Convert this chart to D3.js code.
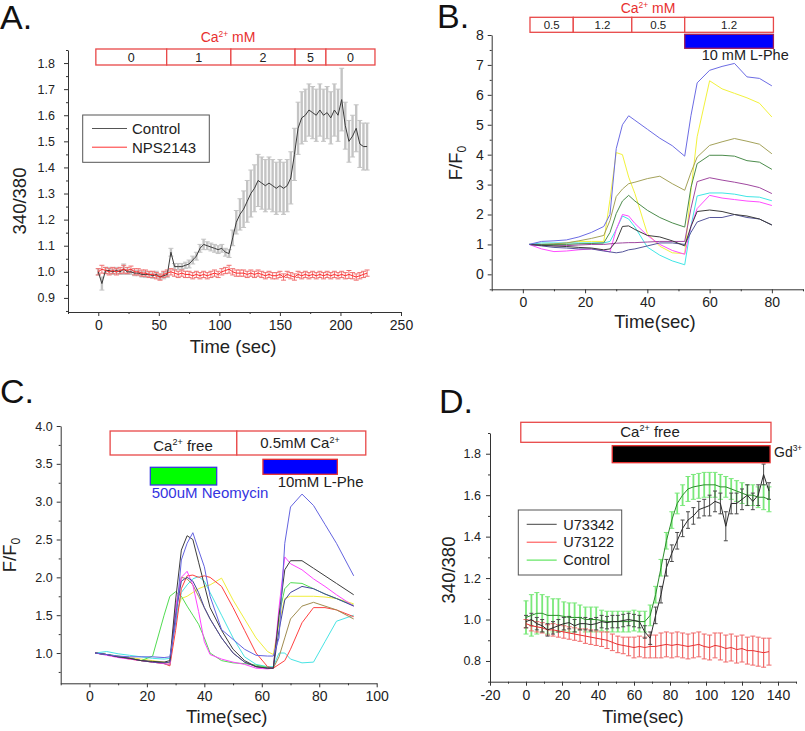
<!DOCTYPE html>
<html>
<head>
<meta charset="utf-8">
<script src="https://cdn.jsdelivr.net/npm/d3@7"></script>
<style>body{margin:0;background:#fff}</style>
</head>
<body>
<script>
// ---------- panel A : 340/380 vs time, Control / NPS2143 ----------
var tA = [0,3,6,9,12,15,18,21,24,27,30,33,36,39,42,45,48,51,54,57,60,63,66,69,72,75,78,81,84,87,90,93,96,99,102,105,108,111,114,117,120,123,126,129,132,135,138,141,144,147,150,153,156,159,162,165,168,171,174,177,180,183,186,189,192,195,198,201,204,207,210,213,216,219,222];
var controlA = [1.0,0.955,1.005,1.005,1.0,1.005,1.0,1.01,1.0,1.0,
  0.995,0.995,0.99,0.99,0.99,0.985,0.99,0.98,0.985,0.99,
  1.075,1.02,1.02,1.02,1.025,1.03,1.045,1.06,1.09,1.105,
  1.1,1.095,1.09,1.085,1.09,1.075,1.07,1.13,1.19,1.22,
  1.24,1.27,1.3,1.32,1.35,1.34,1.33,1.34,1.33,1.32,
  1.33,1.32,1.33,1.36,1.45,1.55,1.59,1.6,1.62,1.61,
  1.6,1.62,1.6,1.61,1.59,1.62,1.6,1.66,1.56,1.5,
  1.52,1.55,1.49,1.48,1.48];
var controlErrA = [0.012,0.025,0.012,0.012,0.01,0.012,0.01,0.02,0.01,0.01,
  0.01,0.01,0.01,0.012,0.01,0.01,0.012,0.01,0.012,0.012,
  0.015,0.012,0.012,0.012,0.012,0.015,0.015,0.015,0.015,0.02,
  0.015,0.015,0.015,0.015,0.015,0.015,0.015,0.03,0.045,0.06,
  0.07,0.08,0.09,0.09,0.1,0.1,0.1,0.1,0.1,0.1,
  0.1,0.1,0.1,0.1,0.1,0.1,0.1,0.1,0.1,0.1,
  0.1,0.1,0.1,0.1,0.1,0.1,0.1,0.12,0.09,0.08,
  0.08,0.09,0.09,0.09,0.09];
var npsA = [1.0,1.01,1.005,1.0,1.005,1.0,1.005,1.01,1.005,1.01,
  1.0,1.0,0.995,0.995,0.99,0.99,0.985,0.98,0.99,0.995,
  1.0,0.995,0.99,0.995,0.99,0.99,0.985,0.99,0.985,0.99,
  0.985,0.99,0.995,0.99,1.0,1.005,1.01,1.0,0.995,0.995,
  0.995,0.99,0.995,0.99,0.995,0.99,0.985,0.99,0.985,0.985,
  0.99,0.98,0.99,0.985,0.98,0.99,0.985,0.99,0.985,0.99,
  0.985,0.99,0.985,0.99,0.985,0.99,0.985,0.99,0.985,0.99,
  0.985,0.98,0.985,0.99,0.995];
var npsErrA = [0.012,0.015,0.012,0.012,0.012,0.012,0.012,0.015,0.012,0.012,
  0.012,0.012,0.012,0.012,0.012,0.012,0.012,0.012,0.012,0.012,
  0.012,0.012,0.012,0.012,0.012,0.012,0.012,0.012,0.012,0.012,
  0.012,0.012,0.012,0.012,0.012,0.012,0.015,0.012,0.012,0.012,
  0.012,0.012,0.012,0.012,0.012,0.012,0.012,0.012,0.012,0.012,
  0.012,0.012,0.012,0.012,0.012,0.012,0.012,0.012,0.012,0.012,
  0.012,0.012,0.012,0.012,0.012,0.012,0.012,0.012,0.012,0.015,
  0.012,0.012,0.012,0.012,0.012];
var caStepsA = [-2,56.5,109.5,162.5,188,228.5];
var caLabelsA = ["0","1","2","5","0"];

// ---------- panel B : F/F0 single cells ----------
var tB = [2,6,10,14,18,22,26,28,30,32,34,36,40,44,48,52,54,56,60,64,68,72,76,80];
var blueB    = [1.0,1.1,1.12,1.15,1.25,1.4,1.6,2.0,4.2,5.0,5.3,5.15,4.85,4.55,4.3,3.95,5.3,6.4,6.82,6.95,7.05,6.6,6.55,6.3];
var yellowB  = [1.0,1.0,1.0,1.05,1.1,1.1,1.1,2.5,4.07,4.0,3.25,2.7,1.36,0.94,0.72,0.69,2.8,4.6,6.47,6.2,6.05,5.9,5.72,5.26];
var oliveB   = [1.0,1.0,1.02,1.05,1.12,1.2,1.3,1.8,2.6,2.85,3.03,3.08,3.2,3.28,3.03,2.81,3.4,3.92,4.31,4.43,4.54,4.45,4.35,4.03];
var greenB   = [1.0,1.0,1.0,1.0,1.02,1.03,1.05,1.4,2.03,2.45,2.64,2.45,2.14,1.9,1.72,1.58,2.9,3.7,3.98,3.98,3.95,3.8,3.75,3.51];
var purpleB  = [1.0,0.97,0.95,0.96,0.98,1.0,1.0,1.02,1.04,1.05,1.06,1.06,1.08,1.1,1.1,1.1,2.2,3.1,3.23,3.15,3.08,3.0,2.9,2.7];
var cyanB    = [1.0,1.05,1.05,1.05,1.05,1.05,1.05,1.1,1.5,1.95,1.85,1.58,0.91,0.64,0.45,0.32,1.6,2.62,2.72,2.72,2.68,2.6,2.58,2.46];
var magentaB = [1.0,0.85,0.76,0.78,0.82,0.85,0.8,0.75,1.5,2.0,1.95,1.7,1.3,1.0,0.8,0.67,1.6,2.2,2.64,2.55,2.5,2.45,2.42,2.3];
var blackB   = [1.0,0.97,0.95,0.93,0.9,0.88,0.82,0.85,1.1,1.6,1.62,1.5,1.3,1.25,1.12,0.95,1.6,2.1,2.15,2.1,2.0,1.95,1.85,1.65];
var navyB    = [1.0,0.95,0.9,0.88,0.85,0.85,0.78,0.75,0.72,0.75,0.82,0.85,0.95,1.05,1.05,1.0,1.4,1.75,1.9,1.9,2.0,1.9,1.85,1.65];
var caStepsB = [2.3,16.2,35,52,80.5];
var caLabelsB = ["0.5","1.2","0.5","1.2"];
var pheB = [52,80.5];

// ---------- panel C : neomycin / L-Phe ----------
var tC = [2,6,10,14,18,22,26,28,30,32,34,36,38,40,42,46,50,54,58,62,64,66,68,70,74,78,82,86,92];
var blueC    = [1.0,0.98,0.96,0.95,0.95,0.95,0.94,0.95,1.4,2.23,2.45,2.59,2.36,2.14,1.75,1.31,1.18,1.05,0.97,0.96,0.96,1.2,2.45,2.93,3.1,2.95,2.7,2.45,2.02];
var blackC   = [1.0,0.98,0.95,0.93,0.9,0.89,0.88,0.9,1.7,2.36,2.55,2.5,2.2,1.9,1.6,1.3,1.05,0.9,0.82,0.8,0.8,1.5,2.1,2.22,2.22,2.12,2.02,1.92,1.77];
var magentaC = [1.0,0.97,0.94,0.92,0.9,0.88,0.86,0.85,1.6,2.0,2.08,1.9,1.55,1.15,0.98,0.92,0.88,0.85,0.8,0.79,0.8,1.6,2.27,2.18,2.1,1.98,1.88,1.77,1.62];
var navyC    = [1.0,0.98,0.95,0.93,0.9,0.88,0.87,0.88,1.5,1.95,2.0,1.95,1.8,1.6,1.45,1.2,1.0,0.88,0.82,0.8,0.8,1.3,1.7,1.8,1.88,1.85,1.78,1.72,1.62];
var greenC   = [1.0,0.98,0.96,0.93,0.9,0.96,1.5,1.75,1.81,1.75,1.62,1.5,1.38,1.2,1.0,0.9,0.87,0.86,0.84,0.81,0.8,1.5,1.85,1.93,1.92,1.85,1.78,1.72,1.63];
var cyanC    = [1.0,1.02,0.99,0.97,0.95,0.93,0.92,0.93,1.4,1.8,1.9,1.98,2.01,1.95,1.8,1.5,1.2,0.95,0.85,0.82,0.82,1.0,1.0,0.92,0.87,0.88,1.15,1.42,1.5];
var yellowC  = [1.0,0.98,0.96,0.94,0.92,0.9,0.88,0.86,1.5,1.72,1.75,1.8,1.85,1.88,1.9,1.99,1.7,1.45,1.2,1.02,0.98,1.4,1.72,1.75,1.75,1.75,1.74,1.72,1.65];
var redC     = [1.0,0.98,0.95,0.92,0.9,0.88,0.86,0.83,1.3,1.85,2.02,2.03,2.0,2.02,2.0,1.88,1.6,1.3,1.0,0.82,0.8,0.85,0.9,1.05,1.4,1.6,1.6,1.57,1.48];
var oliveC   = [1.0,0.98,0.95,0.93,0.9,0.88,0.86,0.84,1.6,2.0,1.98,1.9,1.75,1.6,1.45,1.2,1.0,0.88,0.82,0.8,0.8,0.95,1.2,1.45,1.62,1.67,1.62,1.57,1.45];
var caStepsC = [7.2,51.3,96.2];
var neoC = [21.2,44.3];
var pheC = [60.4,86.3];

// ---------- panel D : U73342 / U73122 / Control ----------
var tD = [0,3,6,9,12,15,18,21,24,27,30,33,36,39,42,45,48,51,54,57,60,63,66,69,72,75,78,81,84,87,90,93,96,99,102,105,108,111,114,117,120,123,126,129,132,135];
var ctrlD = [1.01,1.02,1.03,1.03,1.02,1.02,1.02,1.015,1.01,1.01,
  1.01,1.0,1.0,1.0,0.995,0.99,0.99,0.99,0.99,0.99,
  0.995,0.99,0.99,1.02,1.12,1.25,1.38,1.48,1.56,1.6,
  1.63,1.64,1.645,1.65,1.65,1.65,1.64,1.64,1.63,1.62,
  1.61,1.6,1.6,1.59,1.59,1.58];
var ctrlErrD = [0.08,0.1,0.1,0.09,0.09,0.08,0.08,0.07,0.07,0.07,
  0.06,0.06,0.06,0.06,0.05,0.05,0.05,0.05,0.05,0.05,
  0.05,0.05,0.05,0.05,0.04,0.04,0.04,0.04,0.05,0.05,
  0.06,0.06,0.06,0.06,0.06,0.06,0.06,0.05,0.05,0.05,
  0.05,0.05,0.05,0.05,0.06,0.06];
var u342D = [0.99,1.0,0.98,0.97,0.95,0.96,0.97,0.98,0.985,0.97,
  0.98,0.98,0.975,0.98,0.99,0.985,0.99,0.99,0.995,1.0,
  0.995,0.99,0.94,0.91,1.02,1.12,1.25,1.32,1.38,1.44,
  1.48,1.5,1.53,1.54,1.55,1.57,1.56,1.45,1.56,1.56,
  1.58,1.6,1.57,1.6,1.7,1.62];
var u342ErrD = [0.03,0.03,0.03,0.03,0.03,0.03,0.03,0.03,0.03,0.03,
  0.03,0.03,0.03,0.03,0.03,0.03,0.03,0.03,0.03,0.03,
  0.03,0.03,0.03,0.03,0.04,0.04,0.04,0.04,0.04,0.04,
  0.04,0.04,0.04,0.04,0.05,0.05,0.05,0.07,0.05,0.05,
  0.05,0.05,0.04,0.05,0.05,0.04];
var u122D = [0.98,0.97,0.965,0.96,0.95,0.95,0.945,0.94,0.935,0.93,
  0.925,0.92,0.915,0.91,0.905,0.9,0.89,0.88,0.875,0.87,
  0.865,0.87,0.865,0.87,0.87,0.875,0.88,0.875,0.88,0.875,
  0.87,0.875,0.88,0.87,0.865,0.875,0.87,0.86,0.865,0.855,
  0.86,0.85,0.85,0.845,0.84,0.845];
var u122ErrD = [0.02,0.025,0.025,0.025,0.025,0.03,0.03,0.03,0.03,0.03,
  0.03,0.035,0.035,0.035,0.035,0.04,0.04,0.04,0.04,0.045,
  0.05,0.05,0.05,0.055,0.055,0.06,0.06,0.06,0.06,0.06,
  0.06,0.06,0.06,0.06,0.06,0.06,0.065,0.065,0.065,0.065,
  0.065,0.065,0.07,0.07,0.07,0.065];
var caFreeD = [-2.9,136.1];
var gdD = [47.9,135.6];

// ---------- drawing ----------
var FONT = "'Liberation Sans', Arial, Helvetica, sans-serif";
var BOX_RED = "#e84848";
var svg = d3.select("body").append("svg")
  .attr("width", 805).attr("height", 731)
  .style("font-family", FONT);

function rich(g, x, y, parts, size, color, anchor) {
  var t = g.append("text").attr("x", x).attr("y", y)
    .attr("font-size", size).attr("fill", color || "#222")
    .attr("text-anchor", anchor || "start");
  parts.forEach(function (p, i) {
    var s = t.append("tspan").text(p[0]);
    var prev = parts[i - 1];
    if (p[1] == "sup") s.attr("font-size", size * 0.6).attr("dy", -size * 0.38);
    else if (p[1] == "sub") s.attr("font-size", size * 0.65).attr("dy", size * 0.22);
    else if (prev && prev[1] == "sup") s.attr("dy", size * 0.38);
    else if (prev && prev[1] == "sub") s.attr("dy", -size * 0.22);
  });
  return t;
}

function drawAxes(x, y, o) {
  var g = svg.append("g");
  var yb = y.range()[0], xl = x.range()[0];
  var style = function (s, size) {
    s.attr("font-size", null).attr("font-family", null);
    s.select(".domain").attr("stroke", "#333");
    s.selectAll(".tick line").attr("stroke", "#333");
    s.selectAll("text").attr("font-size", size).attr("fill", "#222");
  };
  g.append("g").attr("transform", "translate(0," + yb + ")")
    .call(d3.axisBottom(x).tickValues(o.xMinor).tickSize(2).tickFormat(""))
    .call(function (s) { s.select(".domain").remove(); s.selectAll("line").attr("stroke", "#333"); });
  g.append("g").attr("transform", "translate(" + xl + ",0)")
    .call(d3.axisLeft(y).tickValues(o.yMinor).tickSize(2).tickFormat(""))
    .call(function (s) { s.select(".domain").remove(); s.selectAll("line").attr("stroke", "#333"); });
  g.append("g").attr("transform", "translate(0," + yb + ")")
    .call(d3.axisBottom(x).tickValues(o.xMajor).tickSize(4).tickSizeOuter(0)
      .tickPadding(4).tickFormat(function (d) { return String(d); }))
    .call(style, 14);
  g.append("g").attr("transform", "translate(" + xl + ",0)")
    .call(d3.axisLeft(y).tickValues(o.yMajor).tickSize(4).tickSizeOuter(0)
      .tickPadding(o.yPad).tickFormat(o.yFmt))
    .call(style, o.ySize);
}

function errBars(x, y, t, m, e, color, cap, sw) {
  var g = svg.append("g").attr("stroke", color).attr("stroke-width", sw || 1);
  t.forEach(function (d, i) {
    var xx = x(d), y1 = y(m[i] + e[i]), y2 = y(m[i] - e[i]);
    g.append("line").attr("x1", xx).attr("x2", xx).attr("y1", y1).attr("y2", y2);
    g.append("line").attr("x1", xx - cap).attr("x2", xx + cap).attr("y1", y1).attr("y2", y1).attr("stroke-width", 1);
    g.append("line").attr("x1", xx - cap).attr("x2", xx + cap).attr("y1", y2).attr("y2", y2).attr("stroke-width", 1);
  });
}

function trace(x, y, t, v, color, w) {
  var line = d3.line().x(function (d, i) { return x(t[i]); }).y(function (d) { return y(d); });
  svg.append("path").attr("d", line(v)).attr("fill", "none")
    .attr("stroke", color).attr("stroke-width", w || 1);
}

function steps(x, bounds, y0, h, stroke, fill) {
  for (var i = 0; i < bounds.length - 1; i++) {
    svg.append("rect").attr("x", x(bounds[i])).attr("y", y0)
      .attr("width", x(bounds[i + 1]) - x(bounds[i])).attr("height", h)
      .attr("fill", fill || "#fff").attr("stroke", stroke).attr("stroke-width", 1.3);
  }
}

function label(x, y, txt, size, anchor, rot) {
  var g = svg.append("g").attr("transform", "translate(" + x + "," + y + ")" + (rot ? " rotate(-90)" : ""));
  return rich(g, 0, 0, txt, size, "#222", anchor || "middle");
}

// ---------- A ----------
var xA = d3.scaleLinear().domain([-25, 250]).range([68, 401]);
var yA = d3.scaleLinear().domain([0.846, 1.85]).range([312, 50]);
drawAxes(xA, yA, {
  xMajor: [0, 50, 100, 150, 200, 250], xMinor: [-25, 25, 75, 125, 175, 225],
  yMajor: [0.9, 1.0, 1.1, 1.2, 1.3, 1.4, 1.5, 1.6, 1.7, 1.8],
  yMinor: [0.85, 0.95, 1.05, 1.15, 1.25, 1.35, 1.45, 1.55, 1.65, 1.75, 1.85],
  yFmt: d3.format(".1f"), yPad: 9, ySize: 12.5
});
errBars(xA, yA, tA, controlA, controlErrA, "#c4c4c4", 2.5, 2.4);
errBars(xA, yA, tA, npsA, npsErrA, "#f07070", 2.5, 1);
trace(xA, yA, tA, controlA, "#3a3a3a", 1);
trace(xA, yA, tA, npsA, "#ff2a2a", 1);
steps(xA, caStepsA, 49, 16, BOX_RED);
caLabelsA.forEach(function (s, i) {
  svg.append("text").attr("x", (xA(caStepsA[i]) + xA(caStepsA[i + 1])) / 2).attr("y", 61.5)
    .attr("text-anchor", "middle").attr("font-size", 12.5).attr("fill", "#222").text(s);
});
rich(svg, 228, 42, [["Ca"], ["2+", "sup"], [" mM"]], 14, "#e83030", "middle");
svg.append("rect").attr("x", 82.7).attr("y", 115).attr("width", 126.6).attr("height", 47.3)
  .attr("fill", "#fff").attr("stroke", "#555");
[["Control", "#555"], ["NPS2143", "#ff3030"]].forEach(function (d, i) {
  var yy = 128.5 + i * 18.7;
  svg.append("line").attr("x1", 92).attr("x2", 127).attr("y1", yy).attr("y2", yy).attr("stroke", d[1]);
  svg.append("text").attr("x", 132).attr("y", yy + 5.3).attr("font-size", 15).attr("fill", "#222").text(d[0]);
});
label(233, 353, [["Time (sec)"]], 18.5);
label(26, 201, [["340/380"]], 18.5, "middle", true);
svg.append("text").attr("x", 0).attr("y", 29).attr("font-size", 34).attr("fill", "#111").text("A.");

// ---------- B ----------
var xB = d3.scaleLinear().domain([-10, 90]).range([491.7, 803]);
var yB = d3.scaleLinear().domain([-0.5, 8]).range([289.3, 35]);
drawAxes(xB, yB, {
  xMajor: [0, 20, 40, 60, 80], xMinor: [-10, 10, 30, 50, 70, 90],
  yMajor: [0, 1, 2, 3, 4, 5, 6, 7, 8], yMinor: [-0.5, 0.5, 1.5, 2.5, 3.5, 4.5, 5.5, 6.5, 7.5],
  yFmt: function (d) { return String(d); }, yPad: 4, ySize: 14
});
[[yellowB, "#f2f23c"], [cyanB, "#40e6e6"], [magentaB, "#ff4cff"], [oliveB, "#a4a25a"],
 [greenB, "#4c8c4c"], [purpleB, "#a048a0"], [navyB, "#55559a"], [blackB, "#3c3c3c"],
 [blueB, "#6c6ce4"]].forEach(function (d) { trace(xB, yB, tB, d[0], d[1]); });
steps(xB, caStepsB, 17.3, 15, BOX_RED);
caLabelsB.forEach(function (s, i) {
  svg.append("text").attr("x", (xB(caStepsB[i]) + xB(caStepsB[i + 1])) / 2).attr("y", 29.3)
    .attr("text-anchor", "middle").attr("font-size", 11.5).attr("fill", "#222").text(s);
});
steps(xB, pheB, 34.3, 14, "#a0205a", "#0000ff");
svg.append("text").attr("x", 701.7).attr("y", 60).attr("font-size", 14.5).attr("fill", "#222").text("10 mM L-Phe");
rich(svg, 648, 13, [["Ca"], ["2+", "sup"], [" mM"]], 14, "#e83030", "middle");
label(655, 328, [["Time(sec)"]], 18.5);
label(461.5, 163, [["F/F"], ["0", "sub"]], 18.5, "middle", true);
svg.append("text").attr("x", 437).attr("y", 28).attr("font-size", 34).attr("fill", "#111").text("B.");

// ---------- C ----------
var xC = d3.scaleLinear().domain([-10, 100]).range([60.7, 376.7]);
var yC = d3.scaleLinear().domain([0.6, 4.0]).range([683.3, 426]);
drawAxes(xC, yC, {
  xMajor: [0, 20, 40, 60, 80, 100], xMinor: [-10, 10, 30, 50, 70, 90],
  yMajor: [1.0, 1.5, 2.0, 2.5, 3.0, 3.5, 4.0], yMinor: [0.75, 1.25, 1.75, 2.25, 2.75, 3.25, 3.75],
  yFmt: d3.format(".1f"), yPad: 4, ySize: 12.5
});
[[yellowC, "#f0ee3c"], [cyanC, "#48e4e4"], [greenC, "#52dc52"], [redC, "#ff4040"],
 [oliveC, "#a08c50"], [magentaC, "#ff44ff"], [navyC, "#44449c"], [blackC, "#3c3c3c"],
 [blueC, "#6464e0"]].forEach(function (d) { trace(xC, yC, tC, d[0], d[1]); });
steps(xC, caStepsC, 431, 24, BOX_RED);
rich(svg, 183, 450.7, [["Ca"], ["2+", "sup"], [" free"]], 15, "#222", "middle");
rich(svg, 300, 448.3, [["0.5mM Ca"], ["2+", "sup"]], 15, "#222", "middle");
steps(xC, neoC, 467.3, 17.7, "#3838e0", "#00ff00");
svg.append("text").attr("x", 151.7).attr("y", 498.3).attr("font-size", 15).attr("fill", "#3434e0").text("500uM Neomycin");
steps(xC, pheC, 459.3, 15, "#e83030", "#0000ff");
svg.append("text").attr("x", 277.7).attr("y", 487.3).attr("font-size", 15).attr("fill", "#222").text("10mM L-Phe");
label(226.7, 723, [["Time(sec)"]], 18.5);
label(16, 555, [["F/F"], ["0", "sub"]], 18.5, "middle", true);
svg.append("text").attr("x", 0).attr("y", 403).attr("font-size", 34).attr("fill", "#111").text("C.");

// ---------- D ----------
var xD = d3.scaleLinear().domain([-20, 150]).range([490, 796]);
var yD = d3.scaleLinear().domain([0.7, 1.9]).range([681.7, 433]);
drawAxes(xD, yD, {
  xMajor: [-20, 0, 20, 40, 60, 80, 100, 120, 140], xMinor: [-10, 10, 30, 50, 70, 90, 110, 130, 150],
  yMajor: [0.8, 1.0, 1.2, 1.4, 1.6, 1.8], yMinor: [0.7, 0.9, 1.1, 1.3, 1.5, 1.7, 1.9],
  yFmt: d3.format(".1f"), yPad: 5, ySize: 12.5
});
errBars(xD, yD, tD, ctrlD, ctrlErrD, "#7ae87a", 2.5, 1.8);
errBars(xD, yD, tD, u122D, u122ErrD, "#f06a6a", 2.5, 1.2);
errBars(xD, yD, tD, u342D, u342ErrD, "#4a4a4a", 2, 1);
trace(xD, yD, tD, ctrlD, "#2c8c2c", 1);
trace(xD, yD, tD, u122D, "#e83030", 1);
trace(xD, yD, tD, u342D, "#2a2a2a", 1);
steps(xD, caFreeD, 422.3, 20, BOX_RED);
rich(svg, 650, 436.7, [["Ca"], ["2+", "sup"], [" free"]], 15, "#222", "middle");
steps(xD, gdD, 445.7, 17, "#e83030", "#000");
rich(svg, 774, 456.7, [["Gd"], ["3+", "sup"]], 14, "#222", "start");
svg.append("rect").attr("x", 518.3).attr("y", 510).attr("width", 103.4).attr("height", 65)
  .attr("fill", "#fff").attr("stroke", "#555");
[["U73342", "#444"], ["U73122", "#ff4040"], ["Control", "#40e040"]].forEach(function (d, i) {
  var yy = 524.3 + i * 17.9;
  svg.append("line").attr("x1", 526.7).attr("x2", 556.7).attr("y1", yy).attr("y2", yy).attr("stroke", d[1]);
  svg.append("text").attr("x", 563.3).attr("y", yy + 5.2).attr("font-size", 14.5).attr("fill", "#222").text(d[0]);
});
label(643, 723, [["Time(sec)"]], 18.5);
label(455, 570, [["340/380"]], 18.5, "middle", true);
svg.append("text").attr("x", 439).attr("y", 413).attr("font-size", 34).attr("fill", "#111").text("D.");
</script>
</body>
</html>
